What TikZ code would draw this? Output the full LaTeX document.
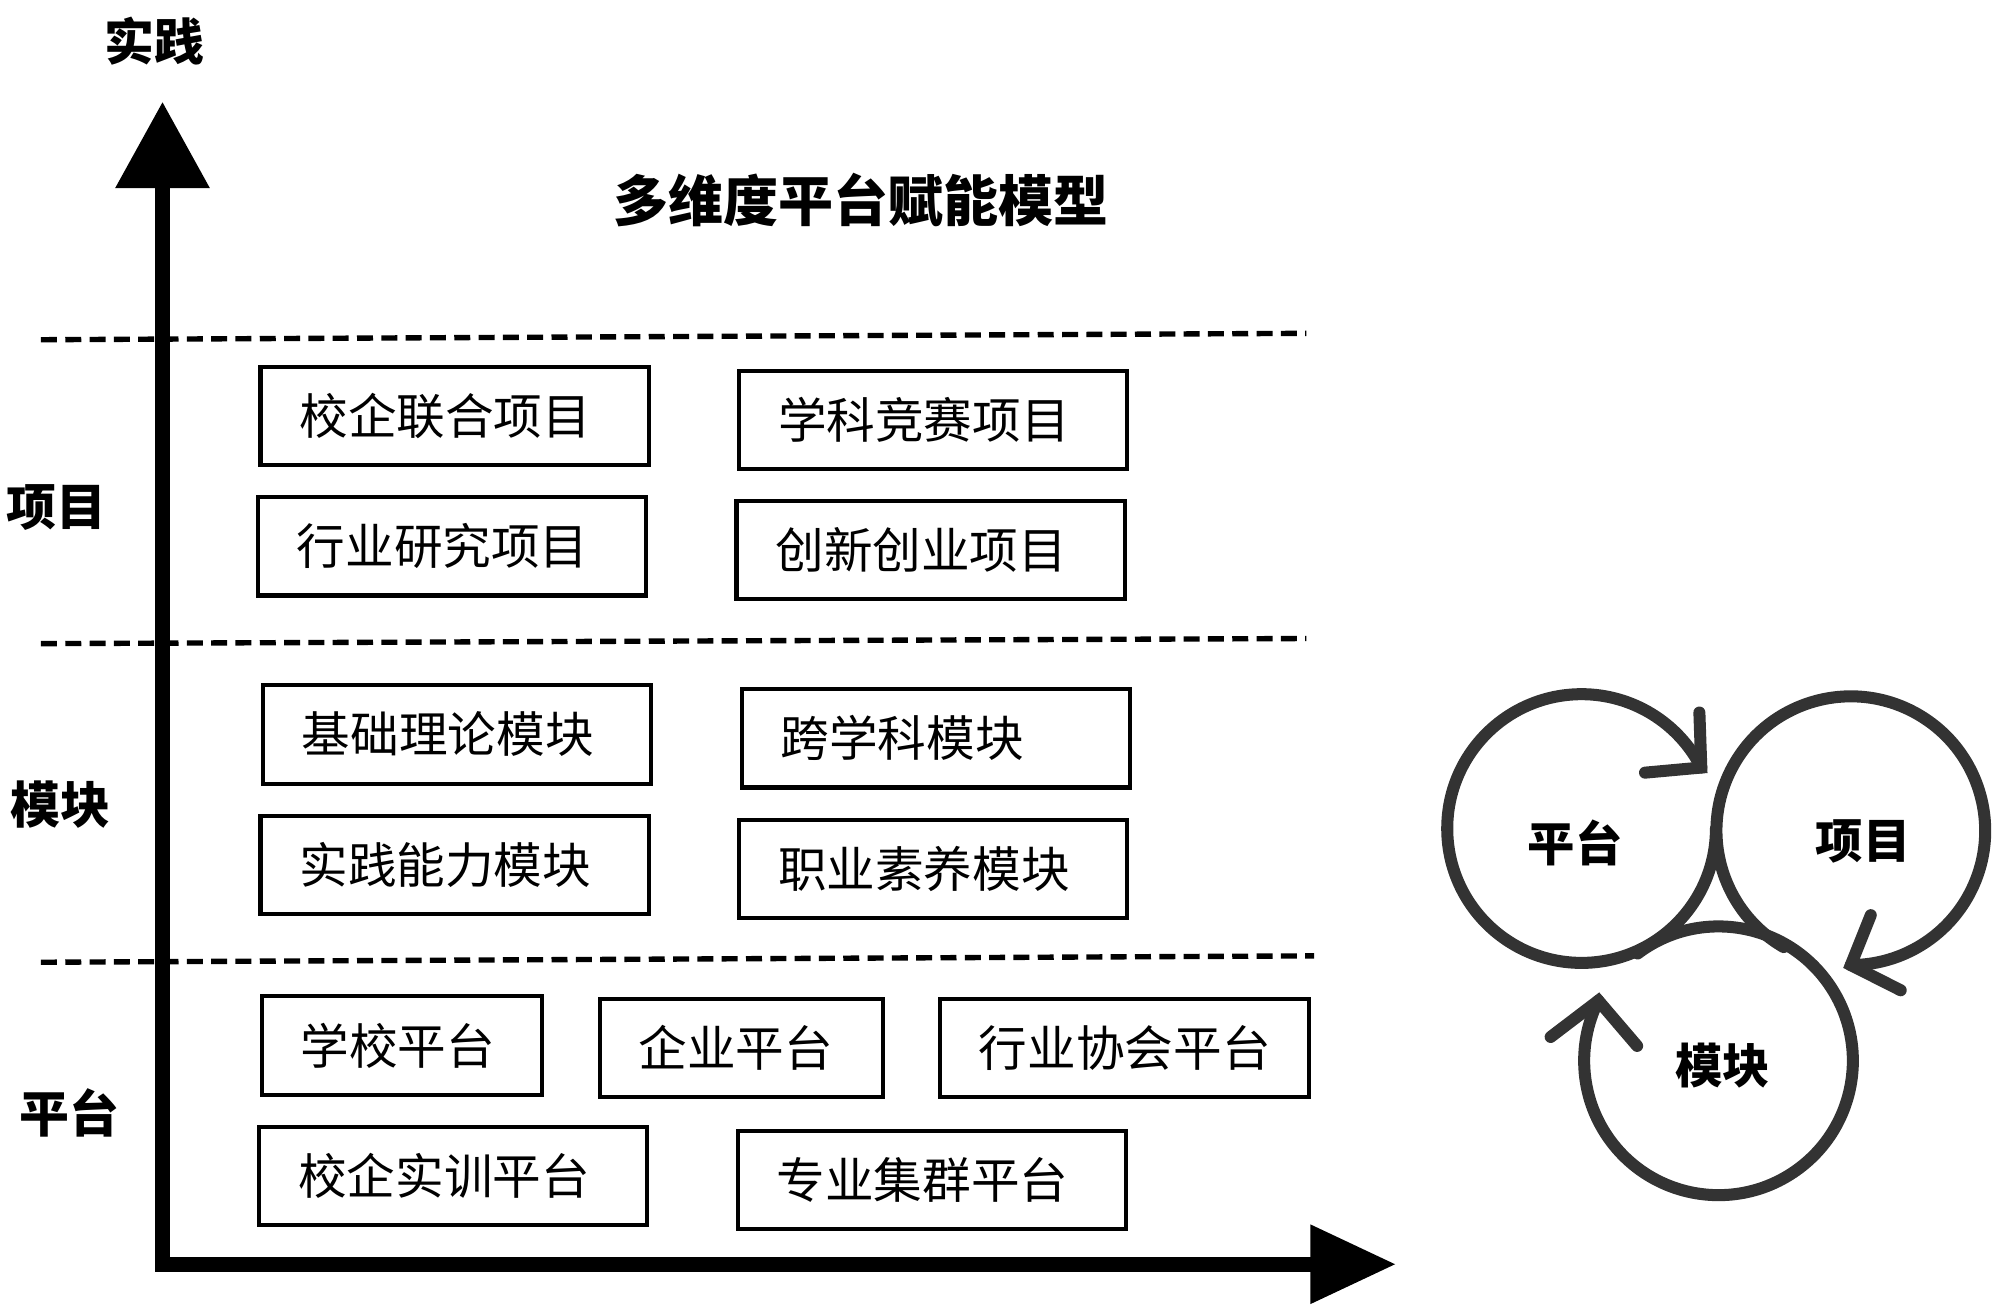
\documentclass[tikz,border=0pt]{standalone}
\usepackage{fontspec}
\setmainfont{Noto Sans CJK SC}
\usepackage{tikz}
\usetikzlibrary{arrows.meta}
\definecolor{ringgray}{HTML}{333333}

\begin{document}
\begin{tikzpicture}[x=0.5pt,y=-0.5pt,
    cell/.style={draw,line width=1.6pt,anchor=west,minimum height=38.4pt,
      inner xsep=15.2pt,inner ysep=0pt,text width=#1,align=left,
      font=\fontsize{19}{19}\selectfont},
    cell/.default=121.25pt,
    lvl/.style={font=\fontsize{19.5}{19.5}\selectfont\bfseries},
    sep/.style={line width=2.1pt,dash pattern=on 6.25pt off 3.25pt},
    ring/.style={draw=ringgray,line width=4.7pt,line cap=round,line join=round},
    barb/.style={ring,line join=miter}]
  \useasboundingbox (0,0) rectangle (1563,1026);

  % levels
  \draw[sep] (32,265.5) -- (1021,260.5);
  \draw[sep] (32,503) -- (1021,499);
  \draw[sep] (32,752) -- (1027,747);

  % axes
  \coordinate (ytip) at (127,79.5);
  \coordinate (o) at (127,988);
  \coordinate (xtip) at (1091,988);
  \draw[line width=5.75pt,line join=miter,
    {Triangle[length=33.75pt,width=35.4pt]}-{Triangle[length=33.5pt,width=29.5pt]}]
    (ytip) -- (o) -- (xtip);

  \node[lvl] (l-prac) at (121,32) {实践};
  \node[font=\fontsize{21.5}{21.5}\selectfont\bfseries] (title) at (673,156) {多维度平台赋能模型};
  \node[lvl] (l-pj) at (44,397) {项目};
  \node[lvl] (l-md) at (47,629) {模块};
  \node[lvl] (l-pf) at (54,870) {平台};

  % projects
  \node[cell] (pj-a) at (202,325) {校企联合项目};
  \node[cell] (pj-b) at (576,328) {学科竞赛项目};
  \node[cell] (pj-c) at (200,427) {行业研究项目};
  \node[cell] (pj-d) at (574,430) {创新创业项目};
  % modules
  \node[cell] (md-a) at (204,574) {基础理论模块};
  \node[cell] (md-b) at (578,577) {跨学科模块};
  \node[cell] (md-c) at (202,676) {实践能力模块};
  \node[cell] (md-d) at (576,679) {职业素养模块};
  % platforms
  \node[cell=79.15pt] (pf-a) at (203,817) {学校平台};
  \node[cell=80.5pt] (pf-b) at (467,819) {企业平台};
  \node[cell=113.85pt] (pf-c) at (733,819) {行业协会平台};
  \node[cell] (pf-d) at (201,919) {校企实训平台};
  \node[cell] (pf-e) at (575,922) {专业集群平台};

  % cycle
  \coordinate (c-pf) at (1236,647.5);
  \coordinate (c-pj) at (1446.4,649.2);
  \coordinate (c-md) at (1343,829);
  \node[font=\fontsize{18.5}{18.5}\selectfont\bfseries] (r-pf) at (1231,659) {平台};
  \node[font=\fontsize{18.5}{18.5}\selectfont\bfseries] (r-pj) at (1456,657.5) {项目};
  \node[font=\fontsize{18.5}{18.5}\selectfont\bfseries] (r-md) at (1346.5,833) {模块};
  \draw[ring] (c-pf) ++(0:105) arc[start angle=0,end angle=333,radius=105] coordinate (t-pf);
  \draw[barb] (t-pf) ++(-44,4) -- (t-pf) -- ++(-1.5,-43);
  \draw[ring] (c-pj) ++(120:105) arc[start angle=120,end angle=450,radius=105] coordinate (t-pj);
  \draw[barb] (t-pj) ++(15.6,-39) -- (t-pj) -- ++(39,19.7);
  \draw[ring] (c-md) ++(233:105) arc[start angle=233,end angle=566.6,radius=105] coordinate (t-md);
  \draw[barb] (t-md) ++(-37.3,28.4) -- (t-md) -- ++(30.3,35.4);
\end{tikzpicture}
\end{document}
